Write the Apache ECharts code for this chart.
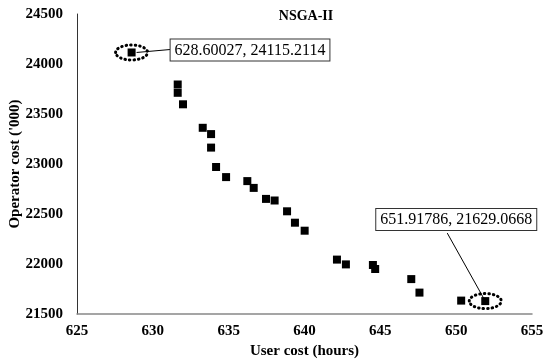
<!DOCTYPE html>
<html>
<head>
<meta charset="utf-8">
<script src="https://cdn.jsdelivr.net/npm/echarts@6/dist/echarts.min.js"></script>
<style>
  html, body { margin: 0; padding: 0; background: #fff; }
  #chart { width: 545px; height: 364px; }
</style>
</head>
<body>
<div id="chart"></div>
<script>
// Pareto front found by NSGA-II: user cost (hours) vs operator cost ('000)
const userCost = [
  628.60027, 631.64, 631.64, 631.99, 633.29, 633.84, 633.84, 634.17,
  634.83, 636.23, 636.65, 637.46, 638.03, 638.85, 639.37, 640.01,
  642.14, 642.73, 644.51, 644.66, 647.04, 647.58, 650.33, 651.91786
];
const operatorCost = [
  24115.2114, 23795, 23712, 23597, 23362, 23299, 23164, 22970,
  22869, 22829, 22761, 22651, 22635, 22527, 22413, 22333,
  22044, 21996, 21990, 21950, 21849, 21714, 21634, 21629.0668
];
// Extreme solutions that get a callout
const highlighted = [0, 23];
const xTicks = [625, 655, 5];
const yTicks = [21500, 24500, 500];

const FONT = '"Liberation Serif", "Times New Roman", serif';
const points = userCost.map((u, i) => [u, operatorCost[i]]);

const chart = echarts.init(document.getElementById('chart'), null, { renderer: 'canvas' });

const tickFont = { fontFamily: FONT, fontWeight: 'bold', fontSize: 15, color: '#000' };

chart.setOption({
  backgroundColor: '#fff',
  animation: false,
  title: {
    text: 'NSGA-II',
    left: 301, top: 4, textAlign: 'center',
    textStyle: { fontFamily: FONT, fontWeight: 'bold', fontSize: 14, color: '#000' }
  },
  grid: { left: 77, right: 13, top: 14, bottom: 50, containLabel: false, outerBoundsMode: 'none' },
  xAxis: {
    type: 'value',
    min: xTicks[0], max: xTicks[1], interval: xTicks[2],
    name: 'User cost (hours)',
    nameLocation: 'middle', nameGap: 30, nameMoveOverlap: false,
    nameTextStyle: { fontFamily: FONT, fontWeight: 'bold', fontSize: 15, color: '#000' },
    axisLine: { show: true, lineStyle: { color: '#888', width: 1.5 } },
    axisTick: { show: false },
    splitLine: { show: false },
    axisLabel: Object.assign({ margin: 10, formatter: v => String(v) }, tickFont)
  },
  yAxis: {
    type: 'value',
    min: yTicks[0], max: yTicks[1], interval: yTicks[2],
    name: "Operator cost ('000)",
    nameLocation: 'middle', nameGap: 54, nameRotate: 90, nameMoveOverlap: false,
    nameTextStyle: { fontFamily: FONT, fontWeight: 'bold', fontSize: 15, color: '#000' },
    axisLine: { show: true, lineStyle: { color: '#333', width: 1 } },
    axisTick: { show: false },
    splitLine: { show: false },
    axisLabel: Object.assign({ margin: 14, formatter: v => String(v) }, tickFont)
  },
  series: [{
    type: 'scatter',
    data: points,
    symbol: 'rect',
    symbolSize: 8,
    itemStyle: { color: '#000', opacity: 1 }
  }]
});

// Callouts for the two extreme solutions: dotted ellipse, leader line and boxed label
const fmt = i => userCost[i] + ', ' + operatorCost[i];
const boxStyle = {
  font: '16px ' + FONT,
  fill: '#000',
  backgroundColor: '#fff',
  borderColor: '#333',
  borderWidth: 1,
  padding: [3, 4, 2, 4]
};
const graphics = [];
highlighted.forEach((idx, k) => {
  const [px, py] = chart.convertToPixel({ gridIndex: 0 }, points[idx]);
  graphics.push({
    type: 'ellipse',
    shape: { cx: px, cy: py, rx: 16, ry: 7.5 },
    style: { fill: 'none', stroke: '#000', lineWidth: 3, lineDash: [0.5, 4], lineCap: 'round' },
    z: 10
  });
  if (k === 0) {
    graphics.push({
      type: 'line',
      shape: { x1: px + 5, y1: py, x2: px + 39, y2: py - 3 },
      style: { stroke: '#000', lineWidth: 1 }, z: 9
    });
    graphics.push({
      type: 'text',
      x: px + 39, y: py - 13,
      style: Object.assign({ text: fmt(idx) }, boxStyle),
      z: 11
    });
  } else {
    graphics.push({
      type: 'line',
      shape: { x1: px - 38, y1: py - 68, x2: px, y2: py },
      style: { stroke: '#000', lineWidth: 1 }, z: 9
    });
    graphics.push({
      type: 'text',
      x: px - 109, y: py - 92,
      style: Object.assign({ text: fmt(idx) }, boxStyle),
      z: 11
    });
  }
});
chart.setOption({ graphic: graphics });
</script>
</body>
</html>
